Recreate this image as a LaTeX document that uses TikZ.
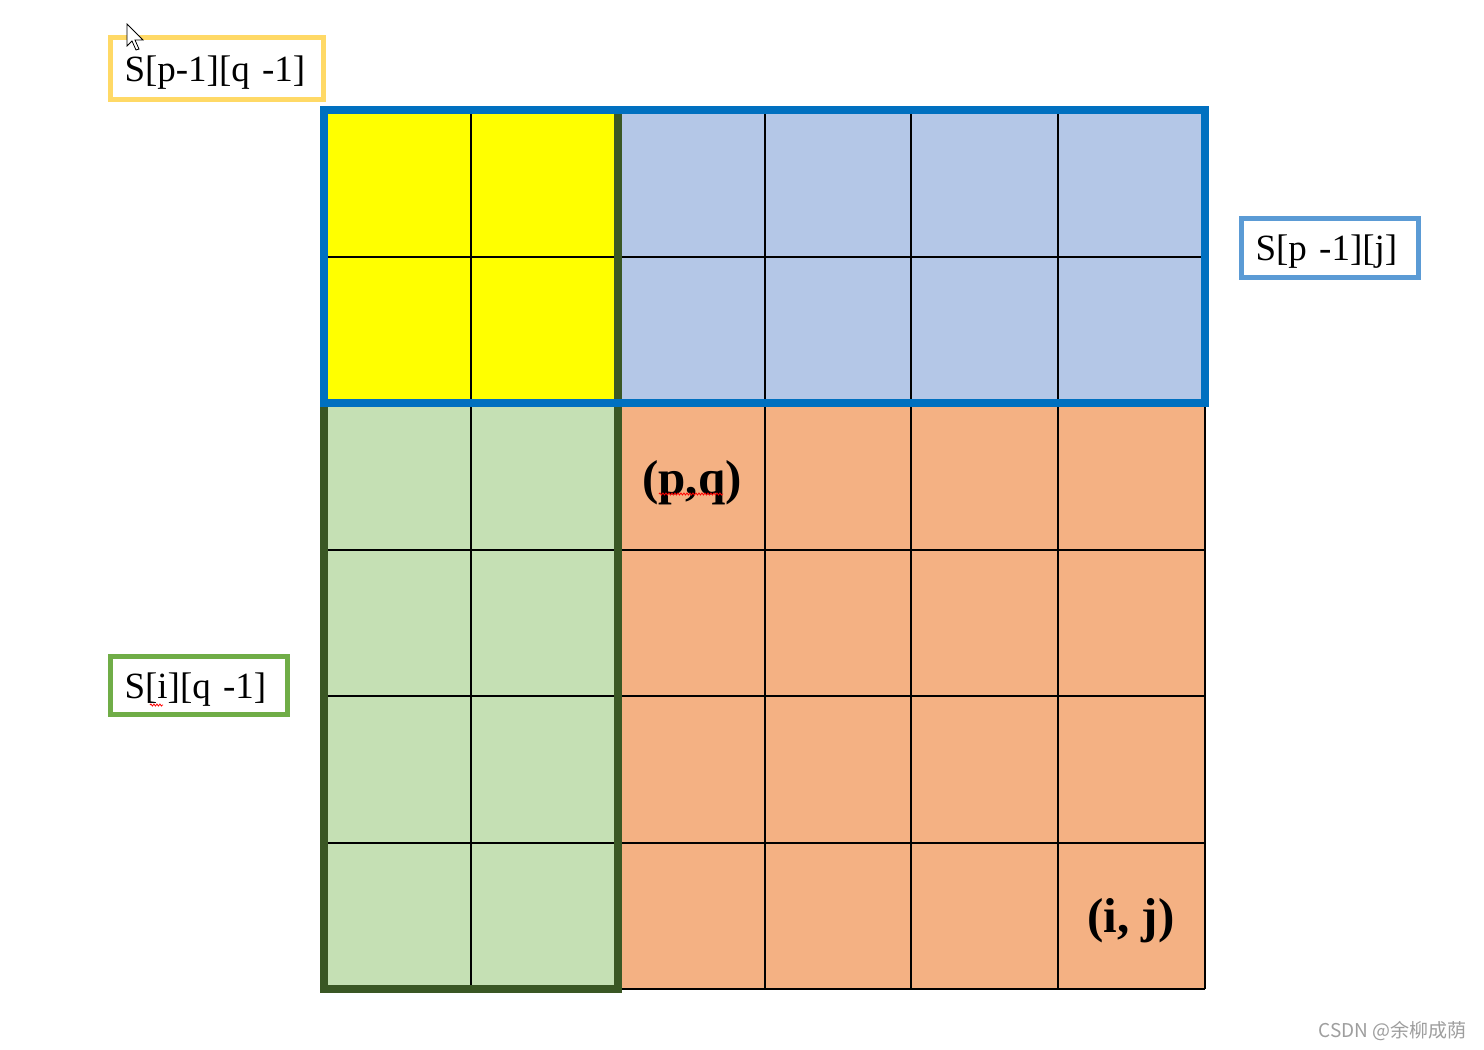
\documentclass[tikz,border=0pt]{standalone}
\usepackage{fontspec}
\setmainfont{Liberation Serif}
\newfontfamily\cjkfont{Noto Sans CJK SC}
\usetikzlibrary{decorations.pathmorphing}
\definecolor{cyel}{HTML}{FFFF00}
\definecolor{cblue}{HTML}{B4C7E7}
\definecolor{cgreen}{HTML}{C5E0B4}
\definecolor{corange}{HTML}{F4B183}
\definecolor{bblue}{HTML}{0070C0}
\definecolor{bgreen}{HTML}{3A5724}
\definecolor{lyel}{HTML}{FFD966}
\definecolor{lblue}{HTML}{5B9BD5}
\definecolor{lgreen}{HTML}{70AD47}
\tikzset{
  gridline/.style={black, line width=2pt},
  labelbox/.style={draw, line width=5pt, fill=white, inner xsep=14pt, inner ysep=0pt,
    text height=34pt, text depth=8pt, align=left,
    font=\fontsize{37}{40}\selectfont},
  celltext/.style={font=\fontsize{49}{52}\selectfont\bfseries, inner sep=0pt},
  squiggle/.style={red, line width=0.8pt, decorate,
    decoration={snake, amplitude=1pt, segment length=3pt}}
}
\begin{document}
\begin{tikzpicture}[x=1pt, y=-1pt]
\useasboundingbox (0,0) rectangle (1484,1050);
\fill[white] (0,0) rectangle (1484,1050);
% fills
\fill[cyel] (324,110) rectangle (618,403);
\fill[cblue] (618,110) rectangle (1205,403);
\fill[cgreen] (324,403) rectangle (618,989);
\fill[corange] (618,403) rectangle (1205,989);
% grid
\foreach \x in {324,471,618,765,911,1058,1205}
  \draw[gridline] (\x,110) -- (\x,989);
\foreach \y in {110,256.5,403,549.5,696,842.5,989}
  \draw[gridline] (324,\y) -- (1205,\y);
% thick borders
\draw[bgreen, line width=8pt] (324,110) rectangle (618,989);
\draw[bblue, line width=8pt] (324,110) rectangle (1205,403);
% labels
\node[labelbox, draw=lyel, text width=185pt, minimum height=62pt] (lab1) at (217,68) {S[p-1][q -1]};
\node[labelbox, draw=lblue, text width=149pt, minimum height=59pt] (lab2) at (1330,247.5) {S[p -1][j]};
\node[labelbox, draw=lgreen, text width=149pt, minimum height=58pt] (lab3) at (199,685.5) {S[i][q -1]};
\node[celltext] (pq) at (692,483) {(p,q)};
\node[celltext] (ij) at (1131,921) {(i, j)};
% spell-check squiggles
\draw[squiggle] (659,494) -- (723,494);
\draw[squiggle] (150,705) -- (163,705);
% watermark
\node[anchor=east, inner sep=0pt, text=black!38, font=\cjkfont\fontsize{19}{21}\selectfont] (wm) at (1467,1031) {CSDN @余柳成荫};
% mouse cursor
\draw[fill=white, line width=0.8pt, line join=miter]
  (127,24) -- (127,46) -- (132,41) -- (136,50) -- (139,49) -- (135,40) -- (143,40) -- cycle;
\end{tikzpicture}
\end{document}
